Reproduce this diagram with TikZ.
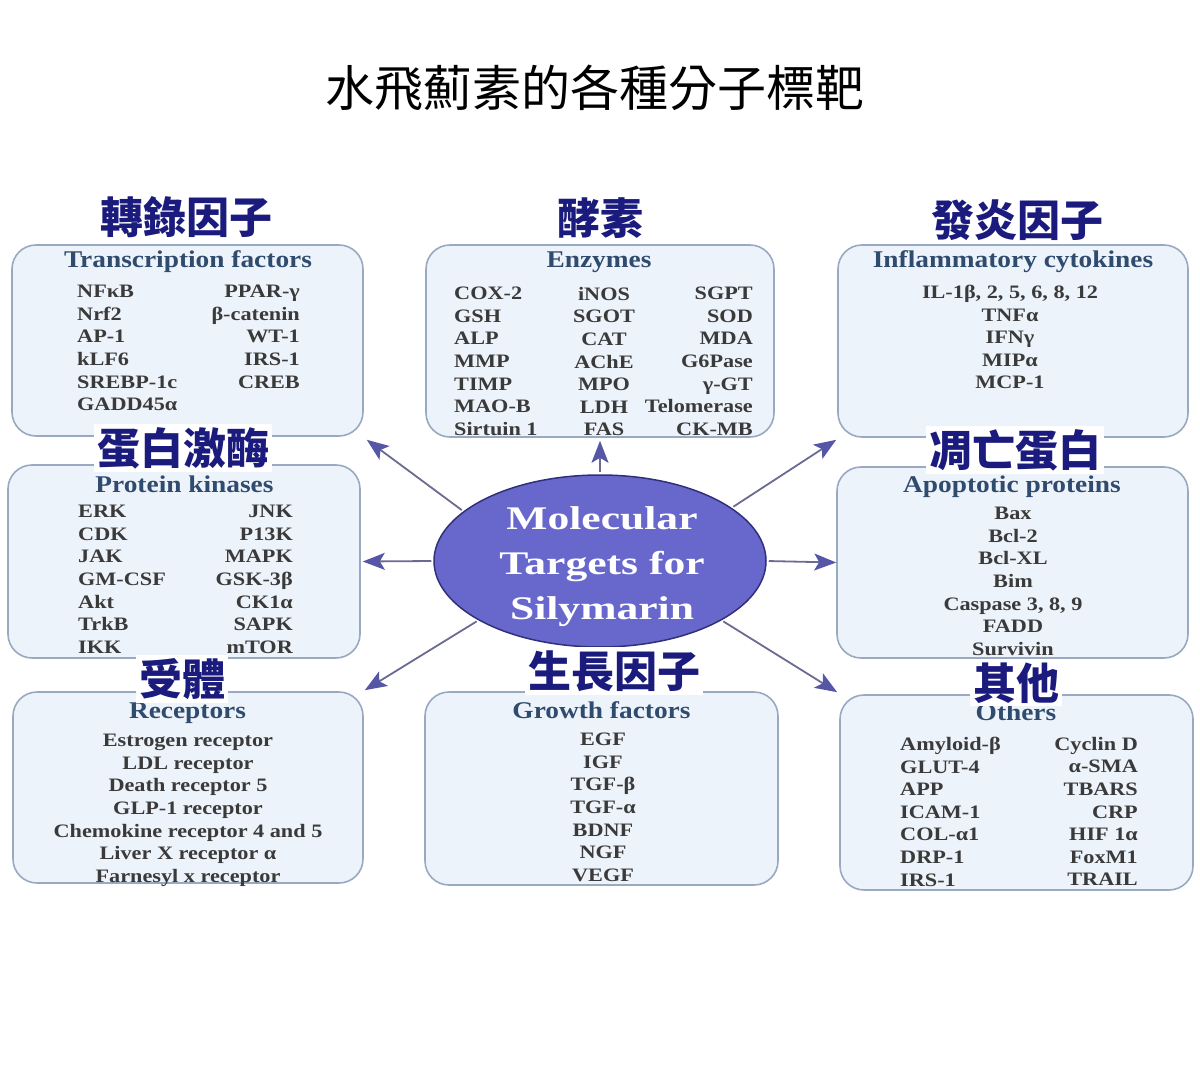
\documentclass[tikz,border=0pt]{standalone}
\usepackage{fontspec}
\usetikzlibrary{arrows.meta,shapes.geometric}
\setmainfont{Liberation Serif}
\newfontfamily\itemfont{Liberation Serif}[FakeStretch=1.17]
\newfontfamily\hdrfont{Liberation Serif}[FakeStretch=1.14]
\newfontfamily\ovalfont{Liberation Serif}[FakeStretch=1.32]
\newfontfamily\cjk{Noto Sans CJK TC}

\definecolor{boxfill}{HTML}{EDF3FA}
\definecolor{boxline}{HTML}{9AA9C2}
\definecolor{hdrcol}{HTML}{2F4B6E}
\definecolor{itemcol}{HTML}{3A3A3A}
\definecolor{ovalfill}{HTML}{6868CC}
\definecolor{ovalline}{HTML}{30307A}
\definecolor{arrline}{HTML}{6A6A92}
\definecolor{arrhead}{HTML}{5656A6}
\definecolor{labcol}{HTML}{1B1B7E}

\begin{document}
\begin{tikzpicture}[x=1pt,y=-1pt,
  catbox/.style={draw=boxline,line width=1.6pt,fill=boxfill,rounded corners=24pt,inner sep=0pt},
  hdr/.style={anchor=base,inner sep=0pt,text=hdrcol,font=\hdrfont\bfseries\fontsize{24}{26}\selectfont},
  item/.style={inner sep=0pt,text=itemcol,font=\itemfont\bfseries\fontsize{19}{22.6}\selectfont},
  lab/.style={fill=white,inner sep=3pt,text=labcol,font=\cjk\bfseries\fontsize{43}{46}\selectfont},
  arr/.style={draw=arrline,line width=1.8pt,shorten <=2pt,-{Stealth[length=22pt,width=17pt,inset=5pt,color=arrhead]}}]
\useasboundingbox (0,0) rectangle (1200,1078);

% title
\node (title) at (595,88) {\cjk\fontsize{49}{52}\selectfont 水飛薊素的各種分子標靶};

% the eight boxes
\node [catbox,minimum width=351pt,minimum height=191pt] (tf)  at (187.5,340.5) {};
\node [catbox,minimum width=348pt,minimum height=192pt] (enz) at (600,341) {};
\node [catbox,minimum width=350pt,minimum height=192pt] (inf) at (1013,341) {};
\node [catbox,minimum width=352pt,minimum height=193pt] (pk)  at (184,561.5) {};
\node [catbox,minimum width=351pt,minimum height=191pt] (apo) at (1012.5,562.5) {};
\node [catbox,minimum width=350pt,minimum height=191pt] (rec) at (188,787.5) {};
\node [catbox,minimum width=353pt,minimum height=193pt] (gf)  at (601.5,788.5) {};
\node [catbox,minimum width=353pt,minimum height=195pt] (oth) at (1016.5,792.5) {};

% transcription factors
\node [hdr] (tfh) at (188,268) {Transcription factors};
\node [item,anchor=north west,align=left] (tfl) at (77,285) {NFκB\\Nrf2\\AP-1\\kLF6\\SREBP-1c\\GADD45α};
\node [item,anchor=north east,align=right] (tfr) at (300,285) {PPAR-γ\\β-catenin\\WT-1\\IRS-1\\CREB};

% enzymes
\node [hdr] (enzh) at (599,268) {Enzymes};
\node [item,anchor=north west,align=left] (enzl) at (454,287) {COX-2\\GSH\\ALP\\MMP\\TIMP\\MAO-B\\Sirtuin 1};
\node [item,anchor=north,align=center] (enzm) at (604,287) {iNOS\\SGOT\\CAT\\AChE\\MPO\\LDH\\FAS};
\node [item,anchor=north east,align=right] (enzr) at (753,287) {SGPT\\SOD\\MDA\\G6Pase\\γ-GT\\Telomerase\\CK-MB};

% inflammatory cytokines
\node [hdr] (infh) at (1013,268) {Inflammatory cytokines};
\node [item,anchor=north,align=center] (infl) at (1010,285) {IL-1β, 2, 5, 6, 8, 12\\TNFα\\IFNγ\\MIPα\\MCP-1};

% protein kinases
\node [hdr] (pkh) at (184.5,492) {Protein kinases};
\node [item,anchor=north west,align=left] (pkl) at (78,505) {ERK\\CDK\\JAK\\GM-CSF\\Akt\\TrkB\\IKK};
\node [item,anchor=north east,align=right] (pkr) at (293,505) {JNK\\P13K\\MAPK\\GSK-3β\\CK1α\\SAPK\\mTOR};

% apoptotic proteins
\node [hdr] (apoh) at (1012,492) {Apoptotic proteins};
\node [item,anchor=north,align=center] (apol) at (1013,507) {Bax\\Bcl-2\\Bcl-XL\\Bim\\Caspase 3, 8, 9\\FADD\\Survivin};

% receptors
\node [hdr] (rech) at (187.5,718) {Receptors};
\node [item,anchor=north,align=center] (recl) at (188,734) {Estrogen receptor\\LDL receptor\\Death receptor 5\\GLP-1 receptor\\Chemokine receptor 4 and 5\\Liver X receptor α\\Farnesyl x receptor};

% growth factors
\node [hdr] (gfh) at (601.5,718) {Growth factors};
\node [item,anchor=north,align=center] (gfl) at (603,733) {EGF\\IGF\\TGF-β\\TGF-α\\BDNF\\NGF\\VEGF};

% others
\node [hdr] (othh) at (1016,720) {Others};
\node [item,anchor=north west,align=left] (othl) at (900,737) {Amyloid-β\\GLUT-4\\APP\\ICAM-1\\COL-α1\\DRP-1\\IRS-1};
\node [item,anchor=north east,align=right] (othr) at (1138,737) {Cyclin D\\α-SMA\\TBARS\\CRP\\HIF 1α\\FoxM1\\TRAIL};

% centre
\node [ellipse,draw=ovalline,line width=1.5pt,fill=ovalfill,minimum width=332pt,minimum height=172pt,inner sep=0pt] (mt) at (600,561) {};
\node [text=white,align=center,inner sep=0pt,font=\ovalfont\bfseries\fontsize{33}{45}\selectfont] (mtlbl) at (602,567) {Molecular\\Targets for\\Silymarin};

% arrows out of the centre
\draw [arr] (mt.north) -- ([yshift=-3pt]enz.south);
\draw [arr] (mt.160) -- ([xshift=3pt,yshift=-3pt]tf.south east);
\draw [arr] (mt.22) -- ([xshift=-1pt,yshift=-2pt]inf.south west);
\draw [arr] (mt.west) -- ([xshift=2pt]pk.east);
\draw [arr] (mt.east) -- (apo.west);
\draw [arr] (mt.206) -- ([xshift=1pt,yshift=1pt]rec.north east);
\draw [arr] (mt.334) -- ([xshift=-2pt,yshift=2pt]oth.north west);

% chinese labels
\node [lab] (tfc)  at (186,217) {轉錄因子};
\node [lab] (enzc) at (600,218) {酵素};
\node [lab] (infc) at (1017,220) {發炎因子};
\node [lab] (pkc)  at (183,448) {蛋白激酶};
\node [lab] (apoc) at (1015,450) {凋亡蛋白};
\node [lab] (recc) at (182,679) {受體};
\node [lab] (gfc)  at (614,671) {生長因子};
\node [lab] (othc) at (1016,683) {其他};

\end{tikzpicture}
\end{document}
